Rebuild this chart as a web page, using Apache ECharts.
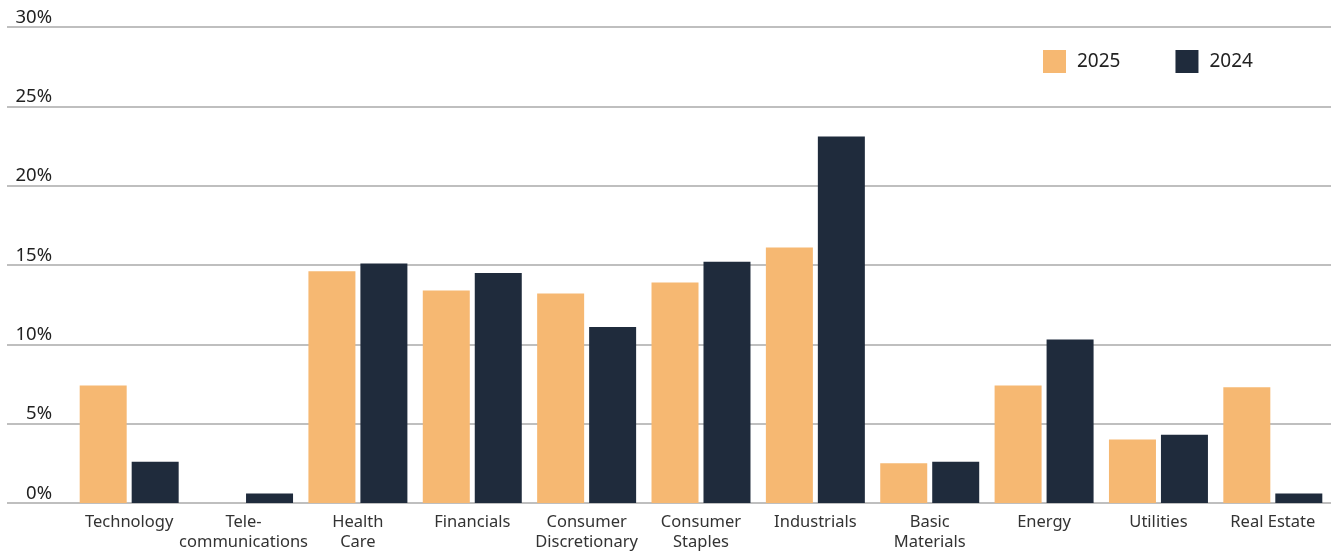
<!DOCTYPE html>
<html><head><meta charset="utf-8">
<script src="https://cdn.jsdelivr.net/npm/echarts@6/dist/echarts.min.js"></script>
<style>html,body{margin:0;padding:0;background:#fff}#c{width:1343px;height:552px}</style>
</head><body><div id="c"></div>
<script>
const categories = ['Technology','Tele-\ncommunications','Health\nCare','Financials','Consumer\nDiscretionary','Consumer\nStaples','Industrials','Basic\nMaterials','Energy','Utilities','Real Estate'];
const series2025 = [7.4, 0, 14.6, 13.4, 13.2, 13.9, 16.1, 2.5, 7.4, 4.0, 7.3];
const series2024 = [2.6, 0.6, 15.1, 14.5, 11.1, 15.2, 23.1, 2.6, 10.3, 4.3, 0.6];
const yTicks = [0, 5, 10, 15, 20, 25, 30];

const FONT = 'Noto Sans';
const chart = echarts.init(document.getElementById('c'));
chart.setOption({
  animation: false,
  textStyle: { fontFamily: FONT },
  legend: {
    left: 1038, top: 45, itemWidth: 23, itemHeight: 23, itemGap: 55, icon: 'rect',
    textStyle: { fontSize: 19, color: '#222', padding: [0, 0, 0, 6], fontFamily: FONT },
    data: ['2025', '2024']
  },
  grid: [
    { left: 7, right: 12, top: 27, bottom: 49 },
    { left: 72, right: 13, top: 27, bottom: 49 }
  ],
  xAxis: [
    { gridIndex: 0, type: 'value', show: false, min: 0, max: 1 },
    { gridIndex: 1, type: 'category', data: categories,
      axisLine: { show: false }, axisTick: { show: false },
      axisLabel: { color: '#333', fontSize: 16.5, lineHeight: 20, margin: 9, interval: 0, fontFamily: FONT } }
  ],
  yAxis: [
    { gridIndex: 0, type: 'value', min: yTicks[0], max: yTicks[yTicks.length-1], interval: 5,
      axisLine: { show: false }, axisTick: { show: false },
      splitLine: { lineStyle: { color: '#aaaaaa', width: 1.5 } },
      axisLabel: { inside: true, align: 'right', verticalAlign: 'bottom', margin: 45,
        color: '#222', fontSize: 18.5, padding: [0, 0, 0, 0], fontFamily: FONT,
        formatter: v => yTicks.includes(v) ? v + '%' : '' } },
    { gridIndex: 1, type: 'value', min: 0, max: 30, show: false }
  ],
  series: [
    { name: '2025', type: 'bar', xAxisIndex: 1, yAxisIndex: 1, data: series2025,
      barWidth: 47, barGap: '10.6%', itemStyle: { color: '#F6B872' } },
    { name: '2024', type: 'bar', xAxisIndex: 1, yAxisIndex: 1, data: series2024,
      barWidth: 47, barGap: '10.6%', itemStyle: { color: '#1F2B3C' } }
  ]
});
</script></body></html>
